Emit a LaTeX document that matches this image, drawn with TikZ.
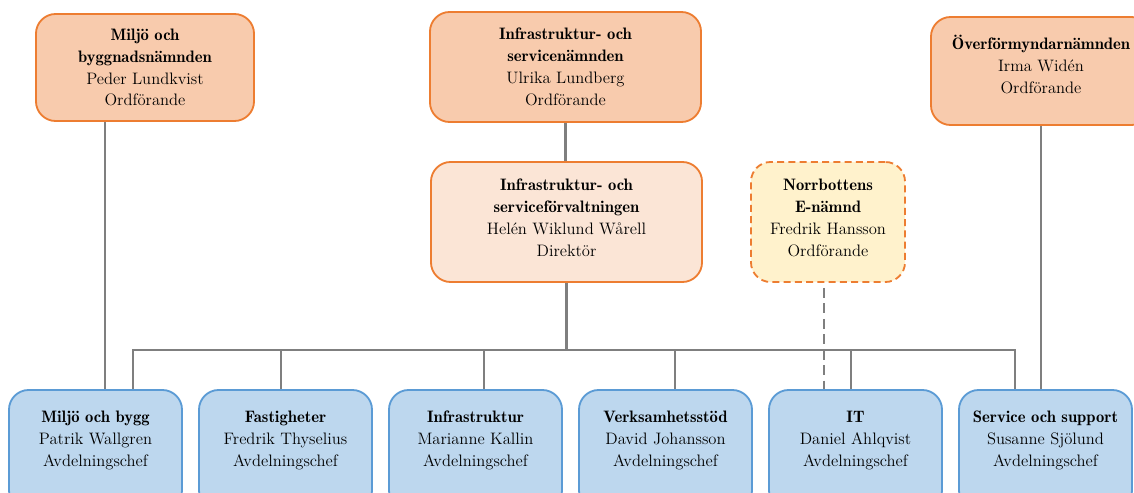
\documentclass[tikz,border=0pt]{standalone}
\definecolor{boardorange}{RGB}{237, 125, 49}
\definecolor{boardfill}{RGB}{248, 203, 173}
\definecolor{adminfill}{RGB}{251, 229, 214}
\definecolor{enamfill}{RGB}{255, 242, 204}
\definecolor{deptblue}{RGB}{91, 155, 213}
\definecolor{deptfill}{RGB}{189, 215, 238}
\definecolor{linegray}{RGB}{127, 127, 127}
\usepackage{tikz}
\usetikzlibrary{positioning}
\newcommand\boxfont{\fontsize{11.8}{15.6}\selectfont}
\newcommand\boxhead[1]{{\fontseries{b}\selectfont #1}}

\begin{document}
\begin{tikzpicture}[x=0.025cm, y=-0.025cm,
  board/.style={draw=boardorange, fill=boardfill, line width=1.3pt, rounded corners=14pt, align=center, font=\boxfont},
  admin/.style={board, fill=adminfill},
  enam/.style={board, fill=enamfill, dash pattern=on 5pt off 3pt},
  dept/.style={draw=deptblue, fill=deptfill, line width=1.3pt, rounded corners=14pt, align=center, font=\boxfont, minimum width=4.325cm, minimum height=3cm},
  conn/.style={draw=linegray, line width=2pt}]
  \useasboundingbox (0, 0) rectangle (1134, 493);

  % Boards
  \node[board, minimum width=5.45cm, minimum height=2.675cm] (mbn) at (145, 67.5) {
    \boxhead{Miljö och}\\\boxhead{byggnadsnämnden}\\Peder Lundkvist\\Ordförande};
  \node[board, minimum width=6.775cm, minimum height=2.75cm] (isn) at (565.5, 67) {
    \boxhead{Infrastruktur- och}\\\boxhead{servicenämnden}\\Ulrika Lundberg\\Ordförande};
  \node[board, minimum width=5.5cm, minimum height=2.7cm] (ofn) at (1041, 71) {
    \boxhead{Överförmyndarnämnden}\\Irma Widén\\Ordförande\\[-11.3pt]\strut};

  % Administration and E-board
  \node[admin, minimum width=6.775cm, minimum height=3cm] (isf) at (566.5, 222) {
    \boxhead{Infrastruktur- och}\\\boxhead{serviceförvaltningen}\\Helén Wiklund Wårell\\Direktör\rule[-6pt]{0pt}{6pt}};
  \node[enam, minimum width=3.85cm, minimum height=3cm] (nbe) at (828, 222) {
    \boxhead{Norrbottens}\\\boxhead{E-nämnd}\\Fredrik Hansson\\Ordförande\rule[-6pt]{0pt}{6pt}};

  % Departments
  \node[dept] (mob) at (95.5, 450) {\boxhead{Miljö och bygg}\\Patrik Wallgren\\Avdelningschef\\[-4.3pt]\strut};
  \node[dept] (fas) at (285.5, 450) {\boxhead{Fastigheter}\\Fredrik Thyselius\\Avdelningschef\\[-4.3pt]\strut};
  \node[dept] (inf) at (475.5, 450) {\boxhead{Infrastruktur}\\Marianne Kallin\\Avdelningschef\\[-4.3pt]\strut};
  \node[dept] (vhs) at (665.5, 450) {\boxhead{Verksamhetsstöd}\\David Johansson\\Avdelningschef\\[-4.3pt]\strut};
  \node[dept] (it) at (855.5, 450) {\boxhead{IT}\\Daniel Ahlqvist\\Avdelningschef\\[-4.3pt]\strut};
  \node[dept] (sos) at (1045.5, 450) {\boxhead{Service och support}\\Susanne Sjölund\\Avdelningschef\\[-4.3pt]\strut};

  % Bus and drop points
  \coordinate (busL) at (133, 350);
  \coordinate (busR) at (1015, 350);
  \coordinate (d2) at (281, 350);
  \coordinate (d3) at (484, 350);
  \coordinate (d4) at (675, 350);
  \coordinate (d5) at (851, 350);
  \coordinate (mbdrop) at (105, 0);
  \coordinate (edrop) at (824, 0);

  % Connectors
  \draw[conn] (isn.south) -- (isn.south |- isf.north);
  \draw[conn] (isf.south) -- (isf.south |- busL);
  \draw[conn] (busL |- mob.north) -- (busL) -- (busR) -- (busR |- sos.north);
  \draw[conn] (d2) -- (d2 |- fas.north);
  \draw[conn] (d3) -- (d3 |- inf.north);
  \draw[conn] (d4) -- (d4 |- vhs.north);
  \draw[conn] (d5) -- (d5 |- it.north);
  \draw[conn] (mbn.south -| mbdrop) -- (mob.north -| mbdrop);
  \draw[conn] (ofn.south) -- (ofn.south |- sos.north);
  \draw[conn, dash pattern=on 7pt off 4pt, shorten <=3.5pt] (nbe.south -| edrop) -- (it.north -| edrop);
\end{tikzpicture}
\end{document}
